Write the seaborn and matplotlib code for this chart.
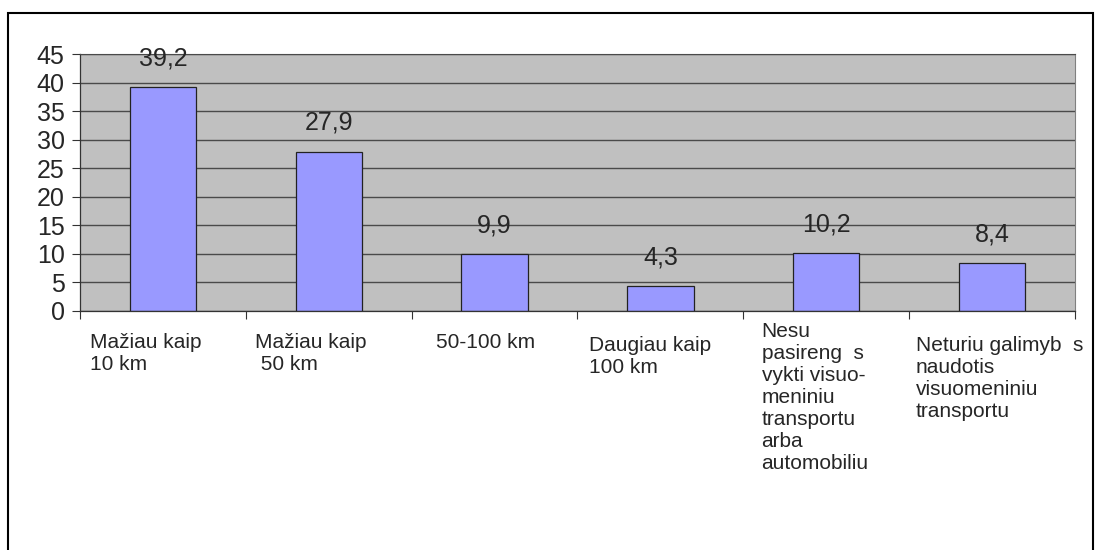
import numpy as np
import pandas as pd
import matplotlib
matplotlib.use('Agg')
import matplotlib.pyplot as plt
import seaborn as sns
from matplotlib.patches import Rectangle

# Data
categories = [
    'Mažiau kaip\n10 km',
    'Mažiau kaip\n 50 km',
    '50-100 km',
    'Daugiau kaip\n100 km',
    'Nesu\npasireng  s\nvykti visuo-\nmeniniu\ntransportu\narba\nautomobiliu',
    'Neturiu galimyb  s\nnaudotis\nvisuomeniniu\ntransportu',
]
values = [39.2, 27.9, 9.9, 4.3, 10.2, 8.4]
y_ticks = [0, 5, 10, 15, 20, 25, 30, 35, 40, 45]

# label placement (offset from slot left edge, in category units / points)
label_dx = [0.06, 0.055, 0.145, 0.07, 0.11, 0.04]
label_dy = [0, 0, 0, -2, 8, -2]

df = pd.DataFrame({'category': categories, 'value': values})

sns.set_style('white')
plt.rcParams['font.family'] = ['Liberation Sans', 'DejaVu Sans']

fig = plt.figure(figsize=(10.96, 5.5), dpi=100)
ax = fig.add_axes([80 / 1096, 1 - 311 / 550, (1075 - 80) / 1096, (311 - 54) / 550])

sns.barplot(data=df, x='category', y='value', color='#9999FF', width=0.4,
            edgecolor='#222222', linewidth=0.9, saturation=1, ax=ax)

ax.set_facecolor('#C0C0C0')
ax.set_ylim(0, 45)
ax.set_xlim(-0.5, len(categories) - 0.5)
ax.set_yticks(y_ticks)
ax.tick_params(axis='y', labelsize=18, length=6, width=0.8, color='#333333',
               direction='out', left=True, pad=5)
ax.yaxis.grid(True, color='#4a4a4a', linewidth=1)
ax.set_axisbelow(True)

# x ticks at the category boundaries, labels drawn as text
ax.set_xticks([])
ax.set_xticks(np.arange(len(categories) + 1) - 0.5, minor=True)
ax.tick_params(axis='x', which='minor', length=6, width=0.8, color='#333333',
               direction='out', bottom=True)
ax.set_xlabel('')
ax.set_ylabel('')

for side in ['left', 'bottom']:
    ax.spines[side].set_color('#333333')
    ax.spines[side].set_linewidth(0.9)
ax.spines['right'].set_color('#808080')
ax.spines['top'].set_color('#4a4a4a')

# value labels with decimal comma
ax.bar_label(ax.containers[0], labels=[f'{v:.1f}'.replace('.', ',') for v in values],
             padding=12, fontsize=18)

for i, cat in enumerate(categories):
    ax.annotate(cat, xy=(i - 0.5 + label_dx[i], 0), xycoords=('data', 'axes fraction'),
                xytext=(0, -16 + label_dy[i]), textcoords='offset points',
                ha='left', va='top', fontsize=15, linespacing=1.2,
                annotation_clip=False)

# outer frame
fig.patches.append(Rectangle((8 / 1096, -0.02), (1093 - 8) / 1096, 1.02 - 13 / 550,
                             transform=fig.transFigure, fill=False,
                             edgecolor='black', linewidth=1.5))

fig.savefig('out.png', dpi=100)
